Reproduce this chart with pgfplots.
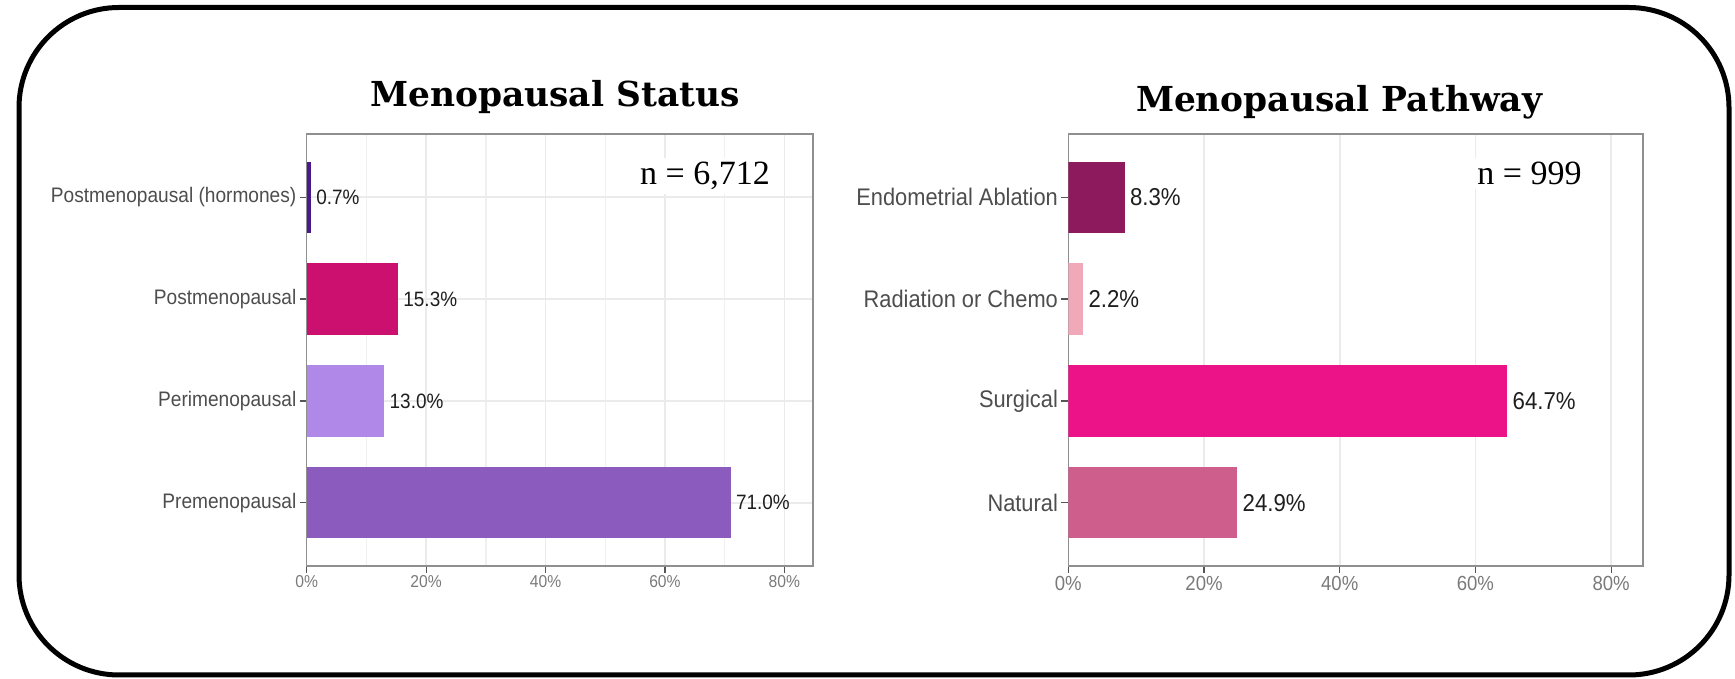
\documentclass[border=0pt]{standalone}
\usepackage{fontspec}
\usepackage{pgfplots}
\pgfplotsset{compat=1.18}
\newfontfamily\labfont{Liberation Sans}[FakeStretch=0.91]
\newfontfamily\titlefont{DejaVu Serif}
\newfontfamily\nfont{Liberation Serif}
\definecolor{framegray}{HTML}{8F8F8F}
\definecolor{tickgray}{HTML}{555555}
\definecolor{gridgray}{HTML}{EBEBEB}
\definecolor{labgray}{HTML}{4D4D4D}
\definecolor{xlabgray}{HTML}{7A7A7A}
\definecolor{valgray}{HTML}{1E1E1E}
\definecolor{cHorm}{HTML}{4A1A8C}
\definecolor{cPost}{HTML}{CC1070}
\definecolor{cPeri}{HTML}{B088E8}
\definecolor{cPre}{HTML}{8C5BBE}
\definecolor{cEndo}{HTML}{8C1A5C}
\definecolor{cRad}{HTML}{EFA9B9}
\definecolor{cSurg}{HTML}{EC1388}
\definecolor{cNat}{HTML}{CE5F8D}
\pgfplotsset{
  panel/.style={
    scale only axis, anchor=south west,
    xbar, bar width=0.7, bar shift=0pt,
    xmin=0, ymin=0.38, ymax=4.62,
    ytick={1,2,3,4},
    xtick={0,20,40,60,80},
    xticklabels={0\%,20\%,40\%,60\%,80\%},
    tick align=outside, tick pos=left,
    major tick length=3.5pt, minor tick length=0pt,
    axis line style={draw=framegray, line width=0.8pt},
    every tick/.style={draw=tickgray, line width=0.6pt},
    major grid style={draw=gridgray, line width=0.8pt},
    minor grid style={draw=gridgray!75, line width=0.7pt},
    yticklabel style={text=labgray, inner sep=1.5pt},
    xticklabel style={text=xlabgray, inner sep=1.2pt},
    point meta=explicit symbolic,
    nodes near coords,
    every node near coord/.append style={text=valgray, anchor=west, inner sep=0pt, xshift=2.5pt},
  },
}
\begin{document}
\begin{tikzpicture}
\useasboundingbox (0pt,0pt) rectangle (867.5pt,339.5pt);
\draw[line width=2.5pt, rounded corners=50pt] (9.5pt,2pt) rectangle (864.5pt,335.75pt);

% ---------- Left panel ----------
\begin{axis}[panel,
  at={(153.35pt,56.5pt)}, width=253.15pt, height=216pt, xmax=84.8,
  xmajorgrids, xminorgrids, ymajorgrids,
  minor xtick={10,30,50,70},
  yticklabels={Premenopausal,Perimenopausal,Postmenopausal,Postmenopausal (hormones)},
  yticklabel style={font=\fontsize{10.5}{12}\labfont},
  xticklabel style={font=\fontsize{8.6}{10}\labfont},
  every node near coord/.append style={font=\fontsize{10.4}{12}\labfont},
]
\addplot[fill=cHorm, draw=none] coordinates {(0.7,4) [0.7\%]};
\addplot[fill=cPost, draw=none] coordinates {(15.3,3) [15.3\%]};
\addplot[fill=cPeri, draw=none] coordinates {(13.0,2) [13.0\%]};
\addplot[fill=cPre, draw=none] coordinates {(71.0,1) [71.0\%]};
\end{axis}

% ---------- Right panel ----------
\begin{axis}[panel,
  at={(534.15pt,56.5pt)}, width=287.35pt, height=216pt, xmax=84.7,
  xmajorgrids,
  yticklabels={Natural,Surgical,Radiation or Chemo,Endometrial Ablation},
  yticklabel style={font=\fontsize{12}{14}\labfont},
  xticklabel style={font=\fontsize{10.2}{12}\labfont},
  every node near coord/.append style={font=\fontsize{12.2}{14}\labfont},
]
\addplot[fill=cEndo, draw=none] coordinates {(8.3,4) [8.3\%]};
\addplot[fill=cRad, draw=none] coordinates {(2.2,3) [2.2\%]};
\addplot[fill=cSurg, draw=none] coordinates {(64.7,2) [64.7\%]};
\addplot[fill=cNat, draw=none] coordinates {(24.9,1) [24.9\%]};
\end{axis}

% n labels and titles
\node[anchor=base, fill=white, inner sep=2pt, font=\fontsize{17}{20}\nfont] at (352.5pt,247pt) {n = 6,712};
\node[anchor=base, fill=white, inner sep=2pt, font=\fontsize{17}{20}\nfont] at (764.75pt,247pt) {n = 999};
\node[anchor=base, font=\fontsize{17.2}{20}\titlefont\bfseries] at (277.5pt,286pt) {Menopausal Status};
\node[anchor=base, font=\fontsize{17.2}{20}\titlefont\bfseries] at (669.5pt,283.5pt) {Menopausal Pathway};
\end{tikzpicture}
\end{document}
